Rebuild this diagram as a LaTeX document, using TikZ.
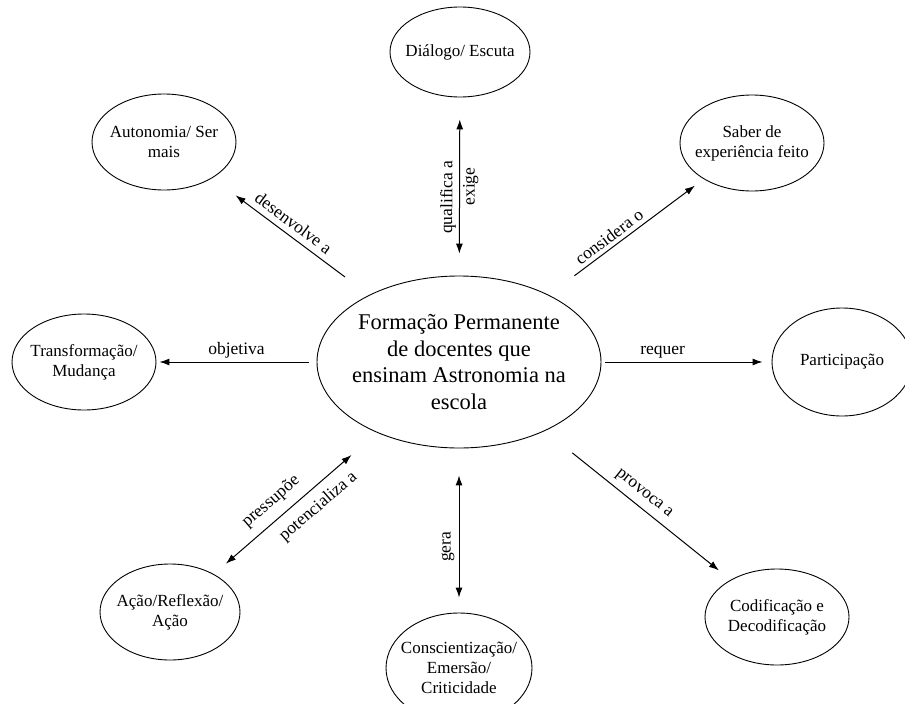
\documentclass[tikz,border=0pt]{standalone}
\usepackage{fontspec}
\setmainfont{Liberation Serif}
\usetikzlibrary{shapes.geometric, arrows.meta}

\begin{document}
\begin{tikzpicture}[x=1pt, y=-1pt,
  concept/.style={draw, ellipse, line width=0.9pt, inner sep=-14pt, align=center,
    minimum width=144, minimum height=96, font=\fontsize{17}{20}\selectfont},
  link/.style={line width=1pt, -{Latex[length=10pt,width=7pt]}},
  twolink/.style={line width=1pt, {Latex[length=10pt,width=7pt]}-{Latex[length=10pt,width=7pt]}},
  linktext/.style={sloped, inner sep=3pt, font=\fontsize{17.5}{20}\selectfont}]
\useasboundingbox (0,0) rectangle (905,704);
% Draw central concept
\node[concept, minimum width=284, minimum height=172, inner sep=-12pt,
  font=\fontsize{22.5}{26.5}\selectfont] (formacao) at (459,362)
  {Formação Permanente\\de docentes que\\ensinam Astronomia na\\escola};
% Draw other concepts
\node[concept, minimum width=140, minimum height=90] (dialogo) at (460,52) {Diálogo/ Escuta};
\node[concept] (autonomia) at (164,142) {Autonomia/ Ser\\mais};
\node[concept] (saber) at (752,143) {Saber de\\experiência feito};
\node[concept] (transformacao) at (84,362) {Transformação/\\Mudança};
\node[concept, minimum width=140, minimum height=108] (participacao) at (842,362) {Participação};
\node[concept, minimum width=140] (acao) at (170,612) {Ação/Reflexão/\\Ação};
\node[concept, minimum width=146, minimum height=110] (conscientizacao) at (459,668) {Conscientização/\\Emersão/\\Criticidade};
\node[concept] (codificacao) at (777,617) {Codificação e\\Decodificação};
% Draw links
\draw[link, shorten <=30pt, shorten >=29pt] (formacao) -- (autonomia)
  node[linktext, above, pos=.53, inner sep=6pt] {desenvolve a};
\draw[twolink, shorten <=22pt, shorten >=22pt] (formacao) -- (dialogo)
  node[linktext, above, pos=.44] {qualifica a}
  node[linktext, below, pos=.5] {exige};
\draw[link, shorten <=32pt, shorten >=11pt] (formacao) -- (saber)
  node[linktext, above, pos=.43, inner sep=4pt] {considera o};
\draw[link, shorten <=8pt, shorten >=3pt] (formacao) -- (transformacao)
  node[linktext, above, pos=.5] {objetiva};
\draw[link, shorten <=4pt, shorten >=9pt] (formacao) -- (participacao)
  node[linktext, above, pos=.36] {requer};
\draw[twolink, shorten <=16pt, shorten >=34pt] (acao) -- (formacao)
  node[linktext, above, pos=.42, inner sep=9pt] {pressupõe}
  node[linktext, below, pos=.57, inner sep=9pt] {potencializa a};
\draw[twolink, shorten <=15pt, shorten >=27pt] (conscientizacao) -- (formacao)
  node[linktext, above, pos=.4, inner sep=4pt] {gera};
\draw[link, shorten <=35pt, shorten >=15pt] (formacao) -- (codificacao)
  node[linktext, above, pos=.49, inner sep=6pt] {provoca a};
\end{tikzpicture}
\end{document}
